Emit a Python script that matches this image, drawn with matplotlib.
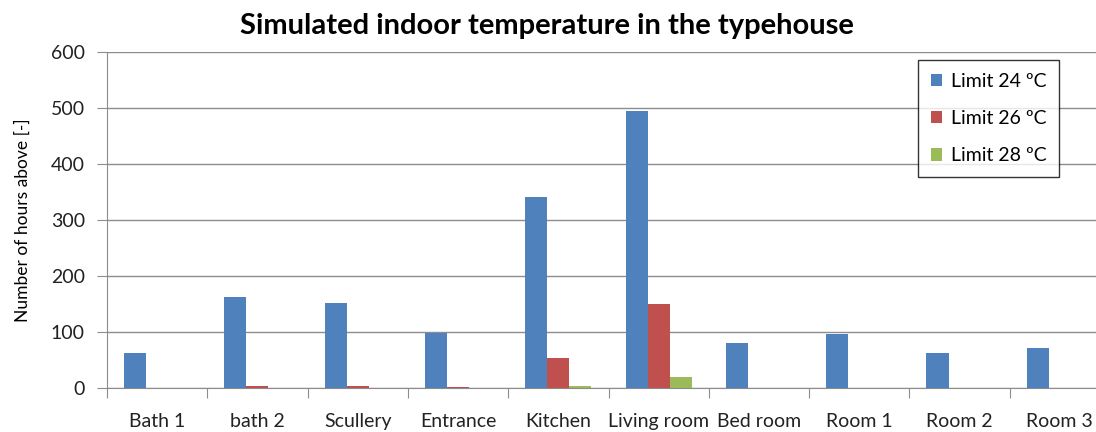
import numpy as np
import matplotlib
matplotlib.use("Agg")
import matplotlib.pyplot as plt

categories = ["Bath 1", "bath 2", "Scullery", "Entrance", "Kitchen",
              "Living room", "Bed room", "Room 1", "Room 2", "Room 3"]
limit24 = [62, 163, 152, 99, 340, 495, 80, 97, 62, 72]
limit26 = [0, 4, 4, 2, 54, 149, 0, 0, 0, 0]
limit28 = [0, 0, 0, 0, 4, 20, 0, 0, 0, 0]
series_names = ["Limit 24 ºC", "Limit 26 ºC", "Limit 28 ºC"]
colors = ["#4F81BD", "#C0504D", "#9BBB59"]
yticks = [0, 100, 200, 300, 400, 500, 600]

plt.rcParams['font.family'] = ['Lato', 'DejaVu Sans']

fig = plt.figure(figsize=(10.96, 4.32), dpi=100)
ax = fig.add_axes([107/1096, 44/432, 1003/1096, 336.3/432])

x = np.arange(len(categories))
w = 0.22
for i, (vals, name, c) in enumerate(zip([limit24, limit26, limit28], series_names, colors)):
    ax.bar(x + (i - 1) * w, vals, width=w, color=c, label=name, zorder=3)

ax.set_xlim(-0.5, len(categories) - 0.5)
ax.set_ylim(0, 600)
ax.set_yticks(yticks)
ax.yaxis.grid(True, color="#8C8C8C", linewidth=1.0, zorder=0)
ax.set_axisbelow(True)

ax.set_xticks(np.arange(len(categories) + 1) - 0.5)
ax.set_xticklabels([])
ax.set_xticks(x, minor=True)
ax.set_xticklabels(categories, minor=True, fontsize=14, color="#222222")
ax.tick_params(axis="x", which="major", length=7, color="#8C8C8C", direction="out")
ax.tick_params(axis="x", which="minor", length=0, pad=18)
ax.tick_params(axis="y", length=7, color="#8C8C8C", labelsize=14, labelcolor="#222222", pad=9)

for s in ["top", "right"]:
    ax.spines[s].set_visible(False)
for s in ["left", "bottom"]:
    ax.spines[s].set_color("#8C8C8C")

ax.set_ylabel("Number of hours above [-]", fontsize=12.5, color="#000000", labelpad=14)
fig.text(547/1096, 1 - 26/432, "Simulated indoor temperature in the typehouse",
         ha="center", va="center", fontsize=21, fontweight="bold")

leg = ax.legend(loc="upper left", bbox_to_anchor=(918/1096, 1 - 60/432),
                bbox_transform=fig.transFigure, frameon=True, fancybox=False,
                edgecolor="black", fontsize=14, handlelength=0.6, handleheight=0.6,
                labelspacing=1.05, borderpad=0.65, handletextpad=0.45, borderaxespad=0)
leg.get_frame().set_linewidth(1.0)

fig.savefig("out.png", dpi=100)
